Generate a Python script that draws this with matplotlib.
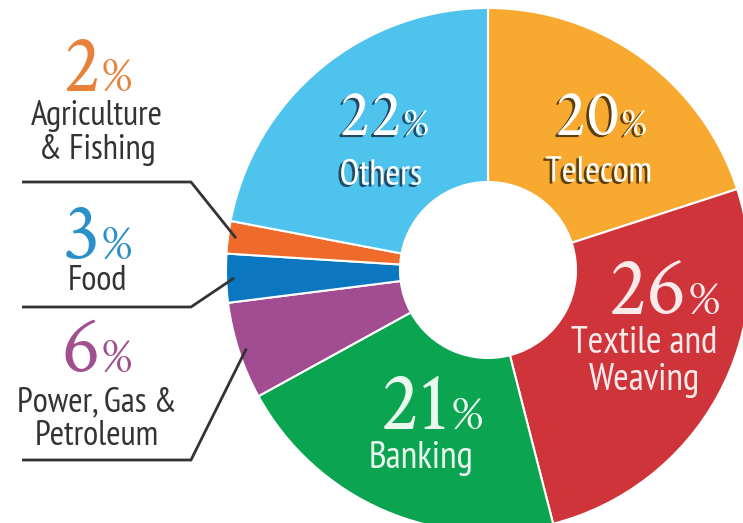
import matplotlib
matplotlib.use("Agg")
import matplotlib.pyplot as plt
import matplotlib.patheffects as pe
import numpy as np

# ── data ────────────────────────────────────────────────────────────────────
sectors = ['Telecom', 'Textile and\nWeaving', 'Banking', 'Power, Gas &\nPetroleum',
           'Food', 'Agriculture\n& Fishing', 'Others']
shares = [20, 26, 21, 6, 3, 2, 22]
colors = ['#F8AA30', '#CF343B', '#0BA552', '#A24D92', '#0B77C1', '#EE6B2B', '#4EC3EE']
pct_colors = ['', '', '', '#A0508F', '#2A90CA', '#E8823A', '']

# ── layout (pixel coordinates, origin top-left) ─────────────────────────────
W, H = 743, 523
CX, CY = 488, 270
R_OUT, R_IN = 262, 88

SERIF = ['Crimson Text', 'Liberation Serif', 'DejaVu Serif']
NARROW = ['PT Sans Narrow', 'Liberation Sans', 'DejaVu Sans']

fig = plt.figure(figsize=(W / 100, H / 100), dpi=100)
ax = fig.add_axes([0, 0, 1, 1])

ax.pie(shares, colors=colors, startangle=90, counterclock=False,
       center=(CX, H - CY), radius=R_OUT,
       wedgeprops=dict(width=R_OUT - R_IN, edgecolor='white', linewidth=1.5))
ax.set_xlim(0, W)
ax.set_ylim(0, H)
ax.set_aspect('equal')
ax.axis('off')


def pct(x, y, val, size, color, effects=None):
    """Number right-aligned at x, smaller % sign after it (y = digit baseline)."""
    ax.text(x, H - y, str(val), ha='right', va='baseline', fontsize=size,
            color=color, family=SERIF, path_effects=effects)
    ax.text(x + 1, H - y, '%', ha='left', va='baseline',
            fontsize=size * 0.6, color=color, family=SERIF, path_effects=effects)


def label(x, y, txt, size, color, effects=None):
    ax.text(x, H - y, txt, ha='center', va='center', fontsize=size,
            color=color, family=NARROW, linespacing=1.05, path_effects=effects)


shadow_blue = [pe.withSimplePatchShadow(offset=(-2, -1.5), shadow_rgbFace='#1c3c52', alpha=0.9)]
shadow_gold = [pe.withSimplePatchShadow(offset=(-2, -1.5), shadow_rgbFace='#4a3208', alpha=0.9)]

# inner labels
pct(402, 135, shares[6], 48, 'white', shadow_blue)
label(381, 175, 'Others', 26, 'white', shadow_blue)
pct(620, 135, shares[0], 48, 'white', shadow_gold)
label(599, 172, sectors[0], 26, 'white', shadow_gold)
pct(687, 314, shares[1], 60, '#FBEAEA')
label(644, 362, sectors[1], 27, '#FBEAEA')
pct(450, 429, shares[2], 60, '#EAF8EE')
label(421, 458, sectors[2], 27, '#EAF8EE')

# left callouts
DARK = '#333333'
left = [(5, 91, 133, 182), (4, 259, 281, 307), (3, 372, 419, 460)]
for i, y_num, y_txt, y_line in left:
    pct(100, y_num, shares[i], 58, pct_colors[i])
    label(97, y_txt, sectors[i], 25, DARK)
    # leader: horizontal rule, then diagonal into the wedge middle
    cum = np.cumsum([0] + shares)
    mid = (cum[i] + cum[i + 1]) / 2 / sum(shares)
    ang = np.deg2rad(90 - mid * 360)
    ex = CX + (R_OUT - 8) * np.cos(ang)
    ey = CY - (R_OUT - 8) * np.sin(ang)
    ax.plot([22, 191, ex], [H - y_line, H - y_line, H - ey],
            color=DARK, lw=2.0, solid_capstyle='butt', solid_joinstyle='miter')

fig.savefig('out.png', dpi=100)
